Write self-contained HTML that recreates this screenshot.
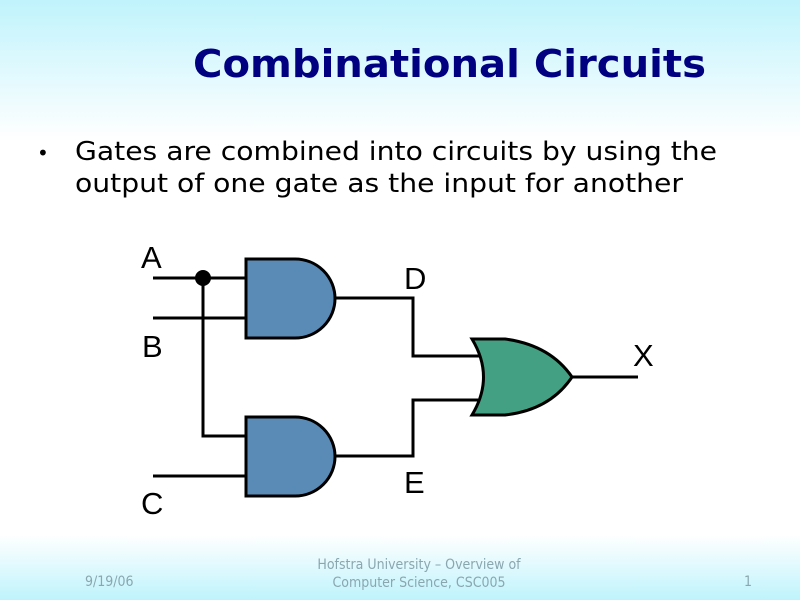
<!DOCTYPE html>
<html><head><meta charset="utf-8"><style>
html,body{margin:0;padding:0;width:800px;height:600px;overflow:hidden}
body{background:linear-gradient(to bottom,#c0f3fc 0px,#ffffff 140px,#ffffff 535px,#bff3fc 600px)}
</style></head><body>
<svg width="800" height="600" xmlns="http://www.w3.org/2000/svg" style="position:absolute;left:0;top:0">
<text x="193" y="77" font-family="DejaVu Sans Condensed, DejaVu Sans, sans-serif" font-weight="bold" font-size="38" fill="#000080" textLength="513" lengthAdjust="spacingAndGlyphs">Combinational Circuits</text>
<text x="37" y="160" font-family="DejaVu Sans, sans-serif" font-size="20" fill="#000">•</text>
<text x="75" y="160" font-family="DejaVu Sans Condensed, DejaVu Sans, sans-serif" font-size="26" fill="#000" textLength="642" lengthAdjust="spacingAndGlyphs">Gates are combined into circuits by using the</text>
<text x="75" y="192" font-family="DejaVu Sans Condensed, DejaVu Sans, sans-serif" font-size="26" fill="#000" textLength="608" lengthAdjust="spacingAndGlyphs">output of one gate as the input for another</text>

<g stroke="#000" stroke-width="3" fill="none">
<path d="M153 278H246M153 318H246M203 278V436H246M153 476H246"/>
<path d="M335 298H413V356H480M335 456H413V400H478M572 377H638"/>
</g>
<circle cx="203" cy="278" r="8" fill="#000"/>
<path d="M246 259H295A40 39.5 0 0 1 295 338H246Z" fill="#5a8bb7" stroke="#000" stroke-width="3"/>
<path d="M246 417H295A40 39.5 0 0 1 295 496H246Z" fill="#5a8bb7" stroke="#000" stroke-width="3"/>
<path d="M472 339H505Q550 345 572 377Q550 410 505 415H472Q495 377 472 339Z" fill="#44a082" stroke="#000" stroke-width="3"/>

<g font-family="Liberation Sans, sans-serif" font-size="31" fill="#000">
<text x="141" y="268">A</text>
<text x="142" y="357">B</text>
<text x="141" y="514">C</text>
<text x="404" y="289">D</text>
<text x="404" y="493">E</text>
<text x="633" y="366">X</text>
</g>
<g font-family="DejaVu Sans Condensed, DejaVu Sans, sans-serif" font-size="14" fill="#8aa7b0">
<text x="85" y="586">9/19/06</text>
<text x="419" y="569" text-anchor="middle">Hofstra University – Overview of</text>
<text x="419" y="587" text-anchor="middle">Computer Science, CSC005</text>
<text x="744" y="586">1</text>
</g>
</svg>
</body></html>
